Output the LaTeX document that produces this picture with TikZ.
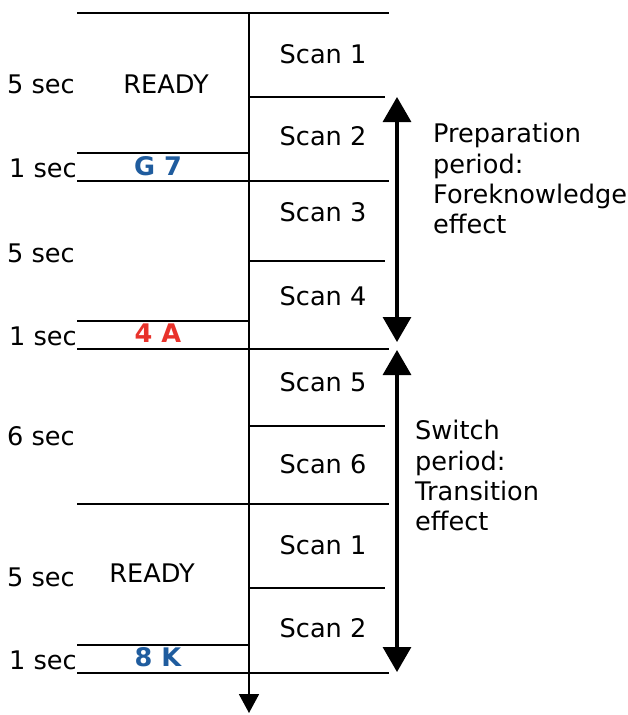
\documentclass[tikz,border=0pt]{standalone}
\usepackage{fontspec}
\setmainfont{DejaVu Sans}
\usetikzlibrary{arrows.meta}
\definecolor{cueblue}{HTML}{1F5C9E}
\definecolor{cuered}{HTML}{E8322B}
\begin{document}
\begin{tikzpicture}[x=1pt,y=-1pt,
  txt/.style={inner sep=0pt,anchor=base,font=\fontsize{25.6}{30}\selectfont},
  lbl/.style={txt,anchor=base west},
  cue/.style={txt,font=\fontsize{25.6}{30}\selectfont\bfseries},
  rule/.style={line width=1.8pt},
  period/.style={line width=3.2pt,{Triangle[width=28pt,length=25pt]}-{Triangle[width=28pt,length=25pt]}},
  note/.style={inner sep=0pt,anchor=north west,align=left,font=\fontsize{25.6}{30.4}\selectfont}]
\useasboundingbox (0,0) rectangle (627,715);
% horizontal rules
\draw[rule] (77,13) -- (389,13);
\draw[rule] (249,97) -- (385,97);
\draw[rule] (77,153) -- (249,153);
\draw[rule] (77,181) -- (389,181);
\draw[rule] (249,261) -- (385,261);
\draw[rule] (77,321) -- (249,321);
\draw[rule] (77,349) -- (389,349);
\draw[rule] (249,426) -- (385,426);
\draw[rule] (77,504) -- (389,504);
\draw[rule] (249,588) -- (385,588);
\draw[rule] (77,645) -- (249,645);
\draw[rule] (77,673) -- (389,673);
% time axis
\coordinate (axtop) at (249,13);
\coordinate (axbot) at (249,713);
\draw[rule,-{Triangle[width=20pt,length=19pt]}] (axtop) -- (axbot);
% scans
\node[txt] (s1) at (323,63) {Scan 1};
\node[txt] (s2) at (323,145) {Scan 2};
\node[txt] (s3) at (323,221) {Scan 3};
\node[txt] (s4) at (323,305) {Scan 4};
\node[txt] (s5) at (323,391) {Scan 5};
\node[txt] (s6) at (323,473) {Scan 6};
\node[txt] (s7) at (323,554) {Scan 1};
\node[txt] (s8) at (323,637) {Scan 2};
% durations
\node[lbl] (d1) at (7,93) {5 sec};
\node[lbl] (d2) at (9,177) {1 sec};
\node[lbl] (d3) at (7,262) {5 sec};
\node[lbl] (d4) at (9,345) {1 sec};
\node[lbl] (d5) at (7,445) {6 sec};
\node[lbl] (d6) at (7,586) {5 sec};
\node[lbl] (d7) at (9,669) {1 sec};
% stimuli
\node[txt] (r1) at (166,93) {READY};
\node[txt] (r2) at (152,582) {READY};
\node[cue,text=cueblue] (c1) at (158,175) {G 7};
\node[cue,text=cuered] (c2) at (158,342) {4 A};
\node[cue,text=cueblue] (c3) at (158,666) {8 K};
% periods
\coordinate (p1t) at (397,97);
\coordinate (p1b) at (397,342);
\coordinate (p2t) at (397,350);
\coordinate (p2b) at (397,672);
\draw[period] (p1t) -- (p1b);
\draw[period] (p2t) -- (p2b);
\node[note] (n1) at (433,123) {Preparation\\period:\\Foreknowledge\\effect};
\node[note] (n2) at (415,420) {Switch\\period:\\Transition\\effect};
\end{tikzpicture}
\end{document}
